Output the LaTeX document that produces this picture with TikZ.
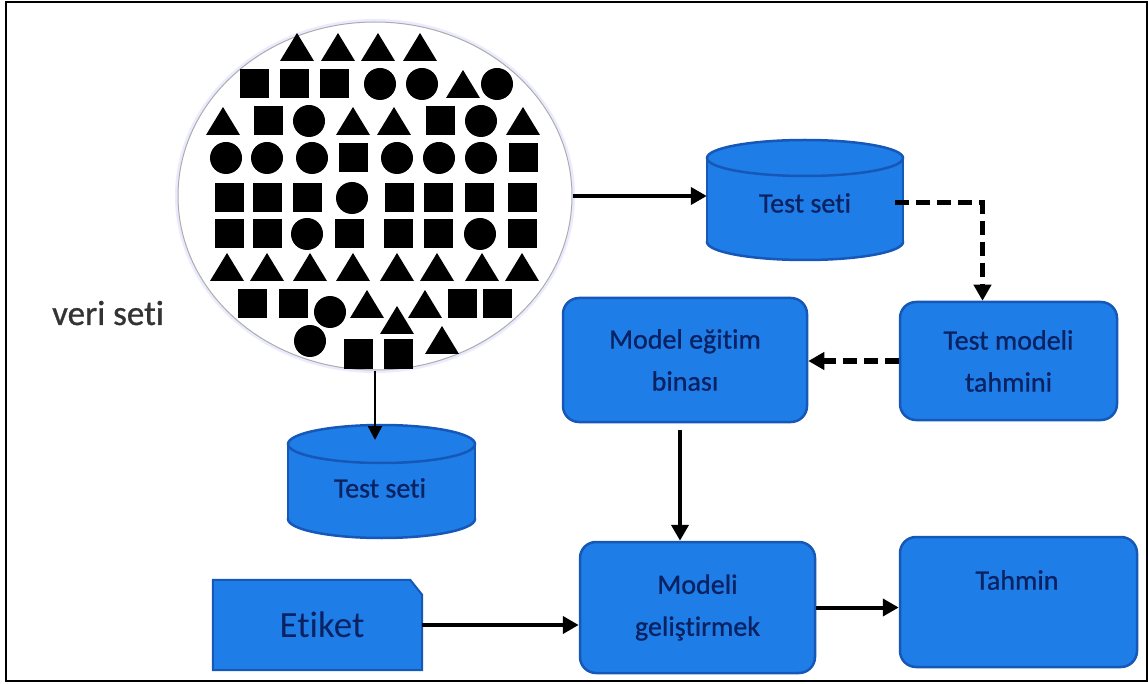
\documentclass[tikz,border=0pt]{standalone}
\usepackage{fontspec}
\setmainfont{Carlito}[Ligatures=CommonOff]
\newfontfamily\boxfont{Carlito}[Ligatures=CommonOff, FakeBold=0.8]
\usetikzlibrary{shapes.geometric,arrows.meta}
\definecolor{boxfill}{RGB}{31,125,232}
\definecolor{boxline}{RGB}{22,88,184}
\definecolor{boxtext}{RGB}{10,34,98}
\tikzset{
  procbox/.style={draw=boxline, line width=2.5pt, fill=boxfill, rounded corners=16pt,
    text=boxtext, align=center, font=\boxfont\fontsize{28}{42}\selectfont, inner sep=0pt},
  lbl/.style={text=boxtext, align=center, font=\boxfont\fontsize{28}{42}\selectfont, inner sep=0pt},
  arr/.style={line width=4pt, -{Triangle[length=16pt,width=17pt]}},
  thinarr/.style={line width=2.5pt, -{Triangle[length=14pt,width=14pt]}},
  darr/.style={line width=5pt, dash pattern=on 14pt off 7pt, -{Triangle[length=16pt,width=17pt]}},
  cyl/.style={fill=boxfill, draw=boxline, line width=2.5pt},
}
\newcommand\shsq[2]{\fill (#1-14.5,#2-14.5) rectangle (#1+14.5,#2+14.5);}
\newcommand\shci[2]{\fill (#1,#2) circle (16pt);}
\newcommand\shtr[2]{\fill (#1-17,#2+14) -- (#1+17,#2+14) -- (#1,#2-14) -- cycle;}
\begin{document}
\begin{tikzpicture}[x=1pt,y=-1pt]
\useasboundingbox (0,0) rectangle (1148,684);
\fill[white] (0,0) rectangle (1148,684);
\draw[line width=2.5pt] (6,2) rectangle (1147,681);

% data pool
\draw[blue!8, line width=3pt] (375,196) ellipse (198.5pt and 175.5pt);
\node[ellipse, draw=gray!65, line width=1pt, fill=white, minimum width=394pt, minimum height=348pt, inner sep=0pt] (pool) at (375,196) {};
% row 1
\shtr{297}{47}\shtr{338}{47}\shtr{378}{47}\shtr{420}{47}
% row 2
\shsq{254}{84}\shsq{294}{84}\shsq{334}{84}\shci{380}{84}\shci{422}{84}\shtr{463}{84}\shci{497}{84}
% row 3
\shtr{223}{121}\shsq{268}{121}\shci{309}{121}\shtr{353}{121}\shtr{394}{121}\shsq{440}{121}\shci{481}{121}\shtr{523}{121}
% row 4
\shci{226}{158}\shci{267}{158}\shci{312}{158}\shsq{353}{158}\shci{397}{158}\shci{439}{158}\shci{481}{158}\shsq{523}{158}
% row 5
\shsq{229}{198}\shsq{267}{198}\shsq{307}{198}\shci{352}{198}\shsq{399}{198}\shsq{438}{198}\shsq{479}{198}\shsq{522}{198}
% row 6
\shsq{229}{234}\shsq{267}{234}\shci{307}{234}\shsq{349}{234}\shsq{398}{234}\shsq{438}{234}\shci{480}{234}\shsq{522}{234}
% row 7
\shtr{227}{267}\shtr{267}{267}\shtr{310}{267}\shtr{353}{267}\shtr{397}{267}\shtr{437}{267}\shtr{482}{267}\shtr{522}{267}
% row 8
\shsq{252}{304}\shsq{293}{304}\shci{330}{312}\shtr{367}{304}\shtr{397}{320}\shtr{425}{304}\shsq{462}{304}\shsq{497}{304}
% row 9
\shci{310}{341}\shsq{358}{354}\shsq{398}{354}\shtr{442}{340}

\node[font=\boxfont\fontsize{35}{40}\selectfont, text=black!80, anchor=base, inner sep=0pt] (veri) at (108,325) {veri seti};

% top cylinder
\fill[boxfill] (707,158) rectangle (903,242);
\filldraw[cyl] (805,242) ellipse (98pt and 18pt);
\fill[boxfill] (707,158) rectangle (903,242);
\draw[boxline, line width=2.5pt] (707,158) -- (707,242) (903,158) -- (903,242);
\filldraw[cyl] (805,158) ellipse (98pt and 18pt);
\node[lbl, minimum width=196pt, minimum height=120pt] (ts1) at (805,203) {Test seti};

% bottom cylinder
\fill[boxfill] (288,444) rectangle (475,519);
\filldraw[cyl] (381.5,519) ellipse (93.5pt and 19pt);
\fill[boxfill] (288,444) rectangle (475,519);
\draw[boxline, line width=2.5pt] (288,444) -- (288,519) (475,444) -- (475,519);
\filldraw[cyl] (381.5,444) ellipse (93.5pt and 19pt);
\node[lbl, minimum width=187pt, minimum height=100pt] (ts2) at (380,488) {Test seti};
\coordinate (ts2top) at (375,440);

% process boxes
\node[procbox, minimum width=244pt, minimum height=124pt] (meb) at (685,360) {Model eğitim\\binası};
\node[procbox, minimum width=217pt, minimum height=118pt] (tmt) at (1008.5,361) {Test modeli\\tahmini};
\node[procbox, minimum width=235pt, minimum height=131pt] (mg) at (697.5,607.5) {Modeli\\geliştirmek};
\node[procbox, minimum width=237pt, minimum height=130pt] (tah) at (1018.5,602) {};
\node[lbl] (tahT) at (1017,580) {Tahmin};

% Etiket
\node[minimum width=209pt, minimum height=90pt, inner sep=0pt] (etk) at (317.5,625) {};
\filldraw[cyl, line width=2pt] (etk.south west) -- (etk.north west) -- ([xshift=-12pt]etk.north east)
   -- ([yshift=-15pt]etk.north east) -- (etk.south east) -- cycle;
\node[text=boxtext, font=\fontsize{37}{44}\selectfont, inner sep=0pt] (etkT) at (322,625) {Etiket};

% connectors
\draw[arr] (pool.east) -- (pool.east -| ts1.west);
\draw[thinarr] (pool.south) -- (ts2top);
\draw[darr] ([xshift=-8pt]ts1.east) -| ([xshift=-26pt]tmt.north);
\draw[darr] (tmt.west) -- (tmt.west -| meb.east);
\coordinate (a5s) at (680,430);
\draw[arr] (a5s) -- (a5s |- mg.north);
\draw[arr] (etk.east) -- (etk.east -| mg.west);
\draw[arr] (mg.east) -- (mg.east -| tah.west);
\end{tikzpicture}
\end{document}
